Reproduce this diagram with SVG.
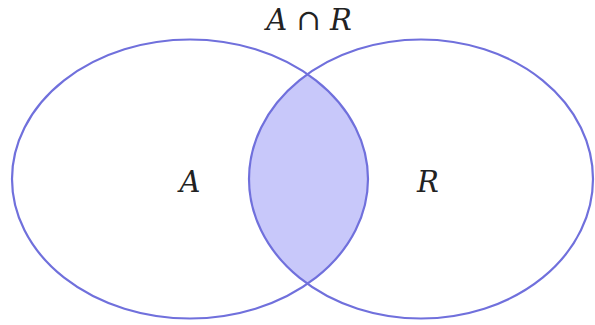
<svg xmlns="http://www.w3.org/2000/svg" width="595" height="325" viewBox="0 0 595 325">
<style>
.set{fill:none;stroke:#7070dc;stroke-width:2.2}
.lbl{font-family:'DejaVu Serif','Liberation Serif',serif;font-size:29px;fill:#222;text-anchor:middle}
.it{font-style:italic}
</style>
<defs>
<clipPath id="clipA"><ellipse cx="190" cy="179" rx="178" ry="139.5"/></clipPath>
</defs>
<rect width="595" height="325" fill="#fff"/>
<g id="intersection">
<ellipse cx="421" cy="179" rx="172" ry="139.5" fill="#c8c8fa" clip-path="url(#clipA)"/>
</g>
<g id="setA">
<ellipse class="set" cx="190" cy="179" rx="178" ry="139.5"/>
<text class="lbl it" x="190" y="192">A</text>
</g>
<g id="setR">
<ellipse class="set" cx="421" cy="179" rx="172" ry="139.5"/>
<text class="lbl it" x="428" y="192">R</text>
</g>
<g id="title">
<text class="lbl" x="309" y="30"><tspan class="it">A</tspan> ∩ <tspan class="it">R</tspan></text>
</g>
</svg>
